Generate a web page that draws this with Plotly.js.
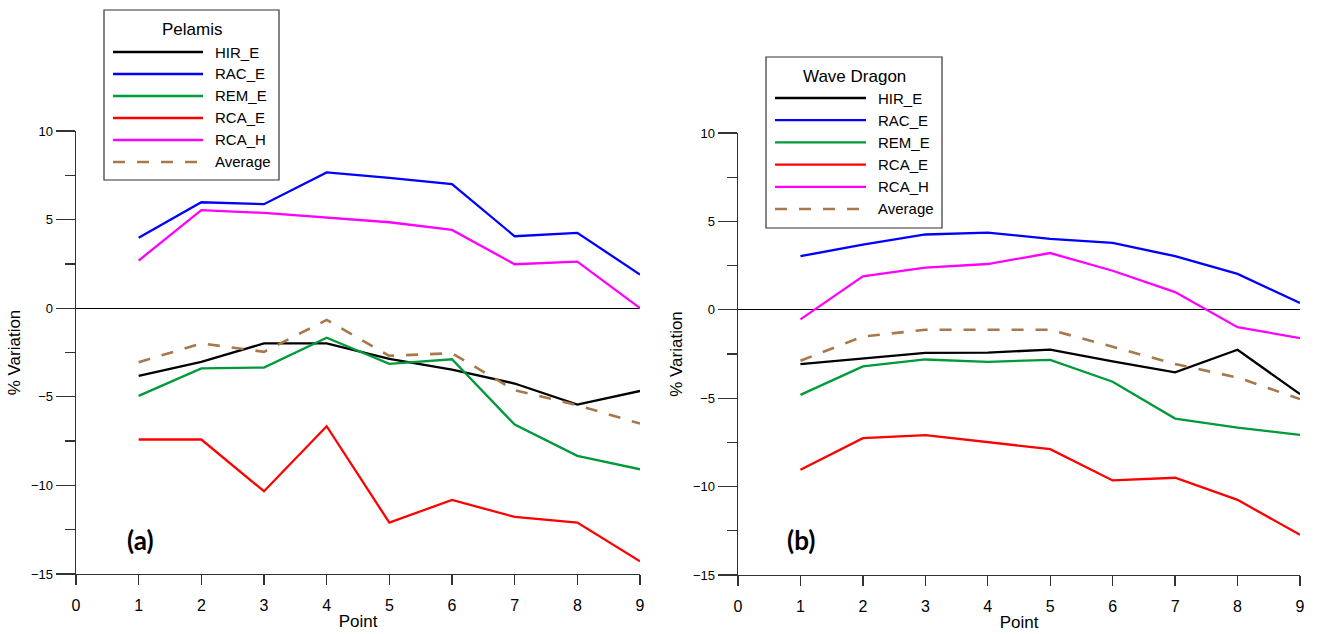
<!DOCTYPE html>
<html>
<head>
<meta charset="utf-8">
<script src="https://cdn.plot.ly/plotly-3.0.1.min.js"></script>
<style>html,body{margin:0;padding:0;background:#fff;}#chart{width:1317px;height:634px;}</style>
</head>
<body>
<div id="chart"></div>
<script>
// ---- data ----
const points = [1, 2, 3, 4, 5, 6, 7, 8, 9];
const seriesNames = ['HIR_E', 'RAC_E', 'REM_E', 'RCA_E', 'RCA_H', 'Average'];
const xTickVals = [0, 1, 2, 3, 4, 5, 6, 7, 8, 9];
const yTickVals = [-15, -10, -5, 0, 5, 10];

// Pelamis (a)
const pelamis_HIR_E = [-3.82, -3.03, -1.99, -1.99, -2.86, -3.46, -4.25, -5.44, -4.67];
const pelamis_RAC_E = [3.97, 5.98, 5.87, 7.66, 7.36, 7.00, 4.06, 4.25, 1.90];
const pelamis_REM_E = [-4.95, -3.40, -3.35, -1.67, -3.14, -2.88, -6.57, -8.33, -9.09];
const pelamis_RCA_E = [-7.41, -7.41, -10.33, -6.66, -12.10, -10.82, -11.78, -12.10, -14.28];
const pelamis_RCA_H = [2.69, 5.53, 5.38, 5.12, 4.85, 4.42, 2.48, 2.63, 0.00];
const pelamis_Average = [-3.05, -1.99, -2.46, -0.66, -2.69, -2.54, -4.63, -5.47, -6.51];

// Wave Dragon (b)
const wave_HIR_E = [-3.07, -2.76, -2.44, -2.42, -2.25, -2.92, -3.54, -2.26, -4.77];
const wave_RAC_E = [3.03, 3.69, 4.26, 4.37, 4.01, 3.78, 3.03, 2.03, 0.38];
const wave_REM_E = [-4.81, -3.20, -2.81, -2.94, -2.83, -4.07, -6.15, -6.66, -7.07];
const wave_RCA_E = [-9.05, -7.26, -7.09, -7.47, -7.88, -9.65, -9.50, -10.75, -12.73];
const wave_RCA_H = [-0.54, 1.89, 2.38, 2.59, 3.21, 2.21, 1.00, -0.98, -1.60];
const wave_Average = [-2.88, -1.51, -1.13, -1.15, -1.13, -2.09, -3.07, -3.83, -5.05];

// ---- styles ----
const colors = ['#000000', '#0000ff', '#009a3a', '#ff0000', '#ff00ff', '#a8784a'];
const dashes = ['solid', 'solid', 'solid', 'solid', 'solid', '12px,12px'];
const W = 1317, H = 634;
const FONT = 'Liberation Sans, Arial, sans-serif';

const pelamisSeries = [pelamis_HIR_E, pelamis_RAC_E, pelamis_REM_E, pelamis_RCA_E, pelamis_RCA_H, pelamis_Average];
const waveSeries = [wave_HIR_E, wave_RAC_E, wave_REM_E, wave_RCA_E, wave_RCA_H, wave_Average];

const traces = [];
function addTraces(series, xa, ya) {
  series.forEach((vals, i) => {
    traces.push({
      type: 'scatter', mode: 'lines', x: points, y: vals, name: seriesNames[i],
      xaxis: xa, yaxis: ya, showlegend: false, hoverinfo: 'x+y+name',
      line: { color: colors[i], width: i === 5 ? 2.6 : 2.3, dash: dashes[i] }
    });
  });
}
addTraces(pelamisSeries, 'x', 'y');
addTraces(waveSeries, 'x2', 'y2');

function px2x(p) { return p / W; }
function py2y(p) { return 1 - p / H; }

function xAxis(domain, anchor) {
  return {
    domain: domain, anchor: anchor, range: [0, 9], tickmode: 'array', tickvals: xTickVals,
    ticks: 'outside', ticklen: 10, tickwidth: 1.4, tickcolor: '#333',
    showline: true, linecolor: '#333', linewidth: 1.4, showgrid: false, zeroline: false,
    tickfont: { family: FONT, size: 16, color: '#000' }, ticklabelstandoff: 6,
    title: { text: 'Point', font: { family: FONT, size: 17, color: '#000' }, standoff: 2 },
    fixedrange: true
  };
}
function yAxis(domain, anchor) {
  return {
    domain: domain, anchor: anchor, range: [-15, 10], tickmode: 'array', tickvals: yTickVals,
    ticks: 'outside', ticklen: 19, tickwidth: 1.4, tickcolor: '#333',
    minor: { dtick: 2.5, ticks: 'outside', ticklen: 10, tickwidth: 1.4, tickcolor: '#333', showgrid: false },
    showline: true, linecolor: '#333', linewidth: 1.4, showgrid: false,
    zeroline: true, zerolinecolor: '#000', zerolinewidth: 1.2,
    tickfont: { family: FONT, size: 13, color: '#000' },
    title: { text: '% Variation', font: { family: FONT, size: 17, color: '#000' }, standoff: 6 },
    fixedrange: true
  };
}

const shapes = [];
const annotations = [];
function addLegend(title, box, titleY, itemY0, step, lineX0, lineX1, textX) {
  shapes.push({
    type: 'rect', xref: 'paper', yref: 'paper',
    x0: px2x(box[0]), x1: px2x(box[1]), y0: py2y(box[3]), y1: py2y(box[2]),
    line: { color: '#333', width: 1.2 }, fillcolor: 'rgba(255,255,255,1)', layer: 'above'
  });
  annotations.push({
    xref: 'paper', yref: 'paper', x: px2x((box[0] + box[1]) / 2), y: py2y(titleY),
    text: title, showarrow: false, xanchor: 'center', yanchor: 'middle',
    font: { family: FONT, size: 17, color: '#000' }
  });
  seriesNames.forEach((nm, i) => {
    const yy = itemY0 + i * step;
    shapes.push({
      type: 'line', xref: 'paper', yref: 'paper',
      x0: px2x(lineX0), x1: px2x(lineX1), y0: py2y(yy), y1: py2y(yy),
      line: { color: colors[i], width: i === 5 ? 2.6 : 2.3, dash: dashes[i] }, layer: 'above'
    });
    annotations.push({
      xref: 'paper', yref: 'paper', x: px2x(textX), y: py2y(yy),
      text: nm, showarrow: false, xanchor: 'left', yanchor: 'middle',
      font: { family: FONT, size: 15, color: '#000' }
    });
  });
}
addLegend('Pelamis', [104, 279, 10, 180], 29, 52, 22, 113, 203, 213);
addLegend('Wave Dragon', [766, 942, 57, 228], 76, 98, 22.2, 775, 866, 876);

annotations.push({
  xref: 'paper', yref: 'paper', x: px2x(140), y: py2y(540), text: '<b>(a)</b>',
  showarrow: false, xanchor: 'center', yanchor: 'middle',
  font: { family: 'Lato, Open Sans, sans-serif', size: 26, color: '#000' }
});
annotations.push({
  xref: 'paper', yref: 'paper', x: px2x(801), y: py2y(540), text: '<b>(b)</b>',
  showarrow: false, xanchor: 'center', yanchor: 'middle',
  font: { family: 'Lato, Open Sans, sans-serif', size: 26, color: '#000' }
});

const layout = {
  width: W, height: H, margin: { l: 0, r: 0, t: 0, b: 0 },
  paper_bgcolor: '#fff', plot_bgcolor: '#fff', showlegend: false,
  xaxis: xAxis([px2x(76), px2x(640)], 'y'),
  yaxis: yAxis([py2y(574), py2y(131)], 'x'),
  xaxis2: xAxis([px2x(738), px2x(1300)], 'y2'),
  yaxis2: yAxis([py2y(575), py2y(133)], 'x2'),
  shapes: shapes, annotations: annotations,
  font: { family: FONT }
};

Plotly.newPlot('chart', traces, layout, { displayModeBar: false, staticPlot: true });
</script>
</body>
</html>
